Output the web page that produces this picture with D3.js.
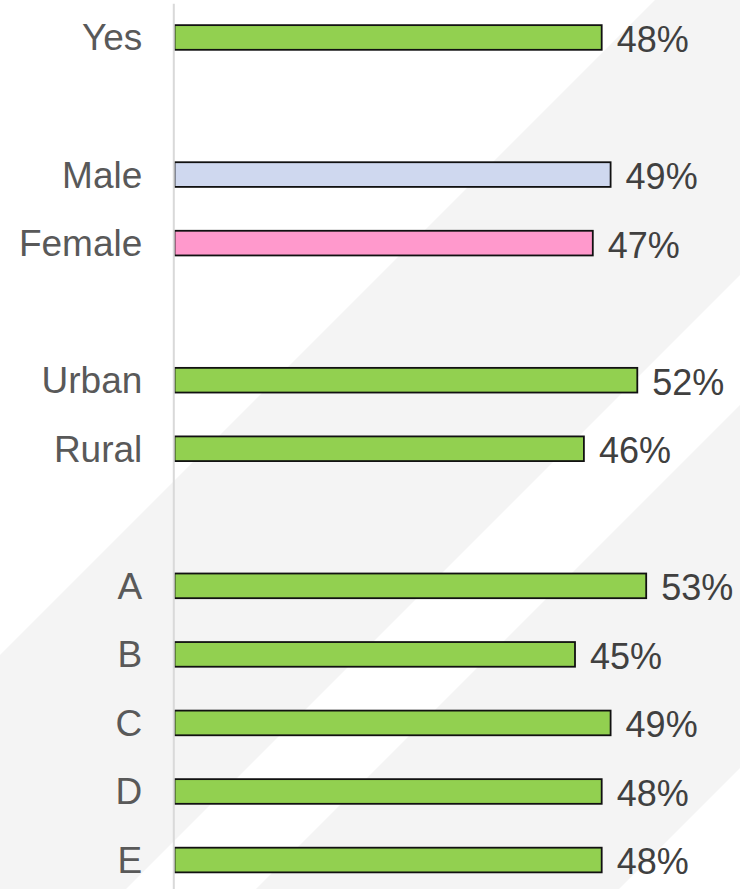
<!DOCTYPE html>
<html lang="en">
<head>
  <meta charset="UTF-8">
  <title>Share by group</title>
  <style>
    body { margin: 0; background: #fff; }
    svg { display: block; }
    text { font-family: "Liberation Sans", Arial, sans-serif; }
  </style>
</head>
<body>
  <div id="chart"></div>
  <script src="https://d3js.org/d3.v7.min.js"></script>
  <script>
// categories, null = empty row between groups
const categories = ['Yes', null, 'Male', 'Female', null, 'Urban', 'Rural', null, 'A', 'B', 'C', 'D', 'E']
const values = [48, null, 49, 47, null, 52, 46, null, 53, 45, 49, 48, 48]
const valueLabels = ['48%', null, '49%', '47%', null, '52%', '46%', null, '53%', '45%', '49%', '48%', '48%']

const width = 740
const height = 889

const svg = d3.select('#chart')
  .append('svg')
    .attr('width', width)
    .attr('height', height)

// diagonal background bands (x + y between the two numbers)
const bands = [[655, 1015], [1145, 1508]]
svg.append('g')
  .selectAll('polygon')
  .data(bands)
  .enter()
  .append('polygon')
    .attr('points', d => [[d[0], 0], [d[1], 0], [d[1] - 2000, 2000], [d[0] - 2000, 2000]].join(' '))
    .style('fill', '#f4f4f4')

const yscale = d3.scaleBand()
  .domain(d3.range(categories.length))
  .range([3.2, 894.3])
  .paddingInner(0.64)
  .paddingOuter(0.32)

const xscale = d3.scaleLinear()
  .domain([0, 60])
  .range([174.5, 174.5 + 60 * 8.9])

const colour = name => name === 'Male' ? '#cfd8ef' : name === 'Female' ? '#ff99cc' : '#92d050'

const rows = d3.range(categories.length).filter(i => values[i] != null)

// bars
svg.append('g')
  .selectAll('rect')
  .data(rows)
  .enter()
  .append('rect')
    .attr('x', xscale(0))
    .attr('y', i => yscale(i))
    .attr('width', i => xscale(values[i]) - xscale(0))
    .attr('height', yscale.bandwidth())
    .style('fill', i => colour(categories[i]))
    .style('stroke', '#111')
    .style('stroke-width', 1.8)

// value labels
svg.append('g')
  .selectAll('text')
  .data(rows)
  .enter()
  .append('text')
    .attr('x', i => xscale(values[i]) + 15)
    .attr('y', i => yscale(i) + yscale.bandwidth() / 2)
    .attr('dy', '0.4em')
    .style('font-size', '36px')
    .style('fill', '#404040')
    .text(i => valueLabels[i])

// category axis
const leftAxis = d3.axisLeft(yscale)
  .tickSize(0)
  .tickPadding(31)
  .tickFormat(i => categories[i] || '')

const axis = svg.append('g')
  .attr('transform', 'translate(173.3, 0)')
  .call(leftAxis)

axis.select('.domain')
  .style('stroke', '#d9d9d9')
  .style('stroke-width', 2)

axis.selectAll('text')
  .attr('dy', '0.35em')
  .style('font-size', '37px')
  .style('fill', '#595959')
  .style('font-family', '"Liberation Sans", Arial, sans-serif')
  </script>
</body>
</html>
